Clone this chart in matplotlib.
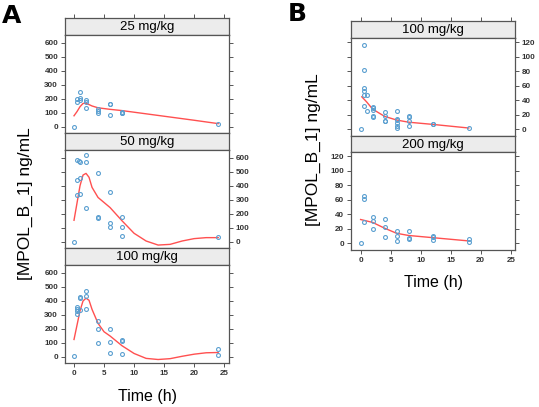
import numpy as np
import matplotlib
matplotlib.use("Agg")
import matplotlib.pyplot as plt

plt.rcParams["font.family"] = ["Liberation Sans", "DejaVu Sans"]

# ---------------------------------------------------------------------------
# Data (time in h, concentration in ng/mL)
# ---------------------------------------------------------------------------

a25_t = [0, 0.5, 0.5, 1, 1, 1, 2, 2, 2, 4, 4, 4, 6, 6, 6, 8, 8, 8, 24]
a25_c = [0, 200, 180, 250, 210, 190, 194, 182, 134, 129, 115, 98,
         167, 163, 86, 110, 103, 98, 22]
a25_fit_t = [0, 0.5, 1, 1.5, 2, 3, 4, 6, 8, 12, 16, 20, 24]
a25_fit_c = [80, 110, 145, 168, 170, 150, 137, 126, 117, 94, 71, 48, 24]

a50_t = [0, 0.5, 0.75, 1, 0.5, 1, 0.5, 1, 2, 2, 2, 4, 4, 4, 6, 6, 6,
         8, 8, 8, 24]
a50_c = [2, 588, 576, 569, 445, 457, 335, 342, 622, 574, 246, 490, 179,
         172, 359, 134, 110, 175, 110, 43, 36]
a50_fit_t = [0, 1, 1.5, 2, 2.5, 3, 4, 6, 8, 10, 12, 14, 16, 18, 20, 22, 24]
a50_fit_c = [155, 402, 478, 490, 462, 390, 318, 246, 151, 62, 7, -22, -17,
             7, 24, 31, 31]

a100_t = [0, 0.5, 0.5, 0.5, 0.5, 1, 1, 1, 2, 2, 2, 4, 4, 4, 6, 6, 6,
          8, 8, 8, 24, 24]
a100_c = [5, 355, 330, 310, 340, 430, 420, 335, 470, 435, 345, 260, 200,
          97, 200, 105, 30, 118, 112, 18, 57, 17]
a100_fit_t = [0, 1, 1.5, 2, 2.5, 3, 4, 5, 6, 8, 10, 12, 14, 16, 18, 20,
              22, 24]
a100_fit_c = [125, 330, 400, 420, 405, 340, 240, 180, 150, 80, 25, -10,
              -18, -12, 5, 20, 30, 32]

b100_t = [0, 0.5, 0.5, 0.5, 0.5, 0.5, 0.5, 1, 1, 2, 2, 2, 2, 2, 4, 4, 4,
          4, 6, 6, 6, 6, 6, 6, 8, 8, 8, 8, 12, 12, 18]
b100_c = [1, 117, 82, 57, 53, 47, 33, 47, 26, 31, 30, 27, 18, 17.5, 23.5,
          19, 12, 11, 26, 15, 13, 9, 5, 1.5, 18.5, 16.6, 11, 5, 8, 7, 2]
b100_fit_t = [0.2, 1, 2, 4, 6, 8, 12, 18]
b100_fit_c = [45, 38, 28, 18, 13, 10, 7, 2]

b200_t = [0, 0.5, 0.5, 0.5, 2, 2, 2, 4, 4, 4, 6, 6, 6, 8, 8, 8, 12, 12,
          12, 18, 18]
b200_c = [0.5, 66, 61, 29, 36, 31.5, 20, 34, 22.5, 9, 17, 10, 3.6, 16.6,
          7, 6.7, 10, 9, 5, 6, 2.2]
b200_fit_t = [0, 2, 4, 6, 8, 12, 18]
b200_fit_c = [33, 29, 21, 14, 11, 8, 3.5]

x_ticks = [0, 5, 10, 15, 20, 25]
a_y_ticks = [0, 100, 200, 300, 400, 500, 600]
b_y_ticks = [0, 20, 40, 60, 80, 100, 120]

W, H = 539, 407
FRAME = "#555555"
PT_COL = "#5a9fd0"
FIT_COL = "#ff5050"
TICK_COL = "#333333"


def rect(x0, y0, x1, y1):
    """Pixel box (top-left origin) -> figure fraction rect."""
    return [x0 / W, 1 - y1 / H, (x1 - x0) / W, (y1 - y0) / H]


def style_frame(ax):
    for s in ax.spines.values():
        s.set_color(FRAME)
        s.set_linewidth(0.9)


def add_strip(fig, box, label, xlim, top_ticks):
    ax = fig.add_axes(rect(*box))
    ax.set_facecolor("#ececec")
    style_frame(ax)
    ax.set_xlim(*xlim)
    ax.set_yticks([])
    if top_ticks:
        ax.set_xticks(x_ticks)
        ax.tick_params(axis="x", which="both", bottom=False, top=True,
                       labelbottom=False, labeltop=False, direction="out",
                       length=3, width=0.7, color=FRAME)
    else:
        ax.set_xticks([])
    ax.text(0.5, 0.45, label, transform=ax.transAxes, ha="center",
            va="center", fontsize=9.5, color="black")
    return ax


def add_panel(fig, box, t, c, ft, fc, xlim, ylim, yticks, ylab_side,
              xlabels):
    ax = fig.add_axes(rect(*box))
    style_frame(ax)
    ax.set_xlim(*xlim)
    ax.set_ylim(*ylim)
    ax.plot(ft, fc, color=FIT_COL, lw=1.0, zorder=2)
    ax.plot(t, c, linestyle="none", marker="o", ms=2.8, mfc="none",
            mec=PT_COL, mew=0.8, zorder=3)
    ax.set_yticks(yticks)
    ax.tick_params(axis="y", left=True, right=True,
                   labelleft=(ylab_side == "left"),
                   labelright=(ylab_side == "right"),
                   direction="out", length=3, width=0.7, color=FRAME,
                   labelsize=5.8, labelcolor=TICK_COL, pad=2)
    if xlabels:
        ax.set_xticks(x_ticks)
        ax.tick_params(axis="x", bottom=True, top=False, direction="out",
                       length=3, width=0.7, color=FRAME, labelsize=5.8,
                       labelcolor=TICK_COL, pad=2)
    else:
        ax.set_xticks([])
    for lab in ax.get_yticklabels() + ax.get_xticklabels():
        lab.set_fontweight("bold")
    return ax


fig = plt.figure(figsize=(W / 100, H / 100), dpi=100)
fig.patch.set_facecolor("white")

# ---------------------------------------------------------------------------
# Panel A
# ---------------------------------------------------------------------------
ax0, ax1 = 65, 229
a_xlim = (-1.5, 25.8)
a_ylim = (-43, 657)
add_strip(fig, (ax0, 18, ax1, 35), "25 mg/kg", a_xlim, True)
add_panel(fig, (ax0, 35, ax1, 133), a25_t, a25_c, a25_fit_t, a25_fit_c,
          a_xlim, a_ylim, a_y_ticks, "left", False)
add_strip(fig, (ax0, 133, ax1, 150), "50 mg/kg", a_xlim, False)
add_panel(fig, (ax0, 150, ax1, 248), a50_t, a50_c, a50_fit_t, a50_fit_c,
          a_xlim, a_ylim, a_y_ticks, "right", False)
add_strip(fig, (ax0, 248, ax1, 265), "100 mg/kg", a_xlim, False)
add_panel(fig, (ax0, 265, ax1, 363), a100_t, a100_c, a100_fit_t, a100_fit_c,
          a_xlim, a_ylim, a_y_ticks, "left", True)

fig.text(25 / W, 1 - 204 / H, "[MPOL_B_1] ng/mL", rotation=90, ha="center",
         va="center", fontsize=12.5)
fig.text((ax0 + ax1) / 2 / W, 1 - 397 / H, "Time (h)", ha="center",
         va="center", fontsize=11.5)
fig.text(2 / W, 1 - 16 / H, "A", ha="left", va="center", fontsize=18,
         fontweight="bold", family=["DejaVu Sans"])

# ---------------------------------------------------------------------------
# Panel B
# ---------------------------------------------------------------------------
bx0, bx1 = 351, 515
b_xlim = (-1.6, 25.7)
b_ylim = (-9, 126)
add_strip(fig, (bx0, 21, bx1, 38), "100 mg/kg", b_xlim, True)
add_panel(fig, (bx0, 38, bx1, 136), b100_t, b100_c, b100_fit_t, b100_fit_c,
          b_xlim, b_ylim, b_y_ticks, "right", False)
add_strip(fig, (bx0, 136, bx1, 152), "200 mg/kg", b_xlim, False)
add_panel(fig, (bx0, 152, bx1, 250), b200_t, b200_c, b200_fit_t, b200_fit_c,
          b_xlim, b_ylim, b_y_ticks, "left", True)

fig.text(313 / W, 1 - 150 / H, "[MPOL_B_1] ng/mL", rotation=90, ha="center",
         va="center", fontsize=12.5)
fig.text((bx0 + bx1) / 2 / W, 1 - 283 / H, "Time (h)", ha="center",
         va="center", fontsize=11.5)
fig.text(288 / W, 1 - 14 / H, "B", ha="left", va="center", fontsize=18,
         fontweight="bold", family=["DejaVu Sans"])

fig.savefig("out.png", dpi=100)
